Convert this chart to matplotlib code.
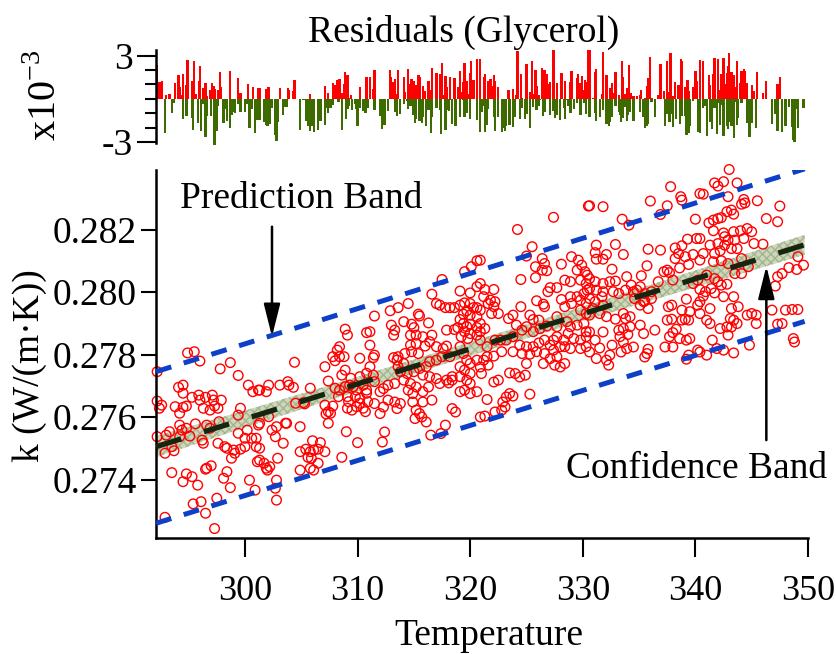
import numpy as np
import matplotlib
matplotlib.use('Agg')
import matplotlib.pyplot as plt

plt.rcParams['font.family'] = ['Liberation Serif', 'DejaVu Serif']
plt.rcParams['mathtext.fontset'] = 'custom'
plt.rcParams['mathtext.rm'] = 'Liberation Serif'
plt.rcParams['axes.unicode_minus'] = False

# measured points (T, k) grouped by temperature range
pts_292_301 = [(294.9,0.27805),(295.5,0.27809),(296.0,0.27779),(292.2,0.27745),(297.8,0.27754),(298.7,0.27774),(299.4,0.27733),
    (292.2,0.27651),(292.6,0.27638),(292.4,0.27628),(294.1,0.27695),(294.5,0.27702),(294.5,0.27676),(293.8,0.27633),(294.5,0.27631),
    (294.8,0.27635),(294.2,0.27612),(295.3,0.27663),(295.9,0.27670),(296.0,0.27654),(296.5,0.27663),(297.1,0.27670),(297.2,0.27654),
    (297.9,0.27654),(296.3,0.27628),(296.9,0.27622),(297.3,0.27635),(297.6,0.27628),(299.6,0.27628),(299.4,0.27606),(300.3,0.27702),
    (300.7,0.27681),(301.2,0.27686),(292.2,0.27537),(293.0,0.27542),(293.3,0.27553),(294.2,0.27574),(294.4,0.27558),(294.8,0.27564),
    (295.6,0.27578),(294.2,0.27537),(295.1,0.27539),(293.5,0.27505),(293.7,0.27492),(292.9,0.27484),(296.6,0.27574),(297.7,0.27585),
    (296.9,0.27564),(296.2,0.27526),(296.3,0.27516),(297.6,0.27516),(298.2,0.27505),(298.4,0.27500),(299.0,0.27494),(299.6,0.27497),
    (298.8,0.27468),(299.1,0.27484),(299.4,0.27548),(300.2,0.27558),(300.0,0.27532),(300.6,0.27532),(301.0,0.27532),(300.0,0.27505),
    (301.0,0.27505),(301.1,0.27457),(301.2,0.27574),(293.5,0.27422),(294.5,0.27393),(294.8,0.27418),(295.3,0.27409),(295.8,0.27382),
    (296.6,0.27436),(297.0,0.27444),(296.5,0.27433),(298.4,0.27425),(298.1,0.27404),(298.7,0.27374),(300.4,0.27398),(300.9,0.27366),
    (295.4,0.27322),(296.1,0.27329),(296.5,0.27292),(297.5,0.27340),(292.9,0.27279),(297.3,0.27243)]

pts_301_311 = [(308.9,0.27881),(309.1,0.27862),(310.8,0.27870),(308.4,0.27825),(308.2,0.27814),(307.8,0.27793),(308.4,0.27793),
    (308.8,0.27793),(308.0,0.27780),(310.2,0.27788),(304.4,0.27775),(307.1,0.27761),(307.4,0.27715),(308.9,0.27750),(308.6,0.27734),
    (309.4,0.27724),(310.2,0.27729),(310.8,0.27740),(301.3,0.27686),(301.9,0.27681),(302.1,0.27702),(303.1,0.27702),(303.8,0.27713),
    (303.9,0.27702),(304.3,0.27695),(305.8,0.27692),(304.5,0.27644),(305.2,0.27646),(305.3,0.27642),(308.0,0.27692),(308.4,0.27686),
    (308.9,0.27697),(309.3,0.27702),(309.6,0.27697),(309.9,0.27686),(310.5,0.27702),(310.8,0.27686),(308.3,0.27665),(309.1,0.27665),
    (309.8,0.27665),(310.2,0.27660),(310.8,0.27676),(310.9,0.27649),(307.1,0.27638),(307.4,0.27617),(307.6,0.27612),(307.2,0.27610),
    (307.8,0.27635),(309.2,0.27649),(309.1,0.27628),(309.5,0.27622),(309.9,0.27633),(310.2,0.27644),(310.5,0.27628),(310.7,0.27617),
    (307.4,0.27580),(309.0,0.27553),(310.0,0.27518),(301.3,0.27580),(302.1,0.27601),(302.4,0.27558),(302.8,0.27569),(303.6,0.27580),
    (303.7,0.27580),(302.7,0.27537),(303.4,0.27516),(304.9,0.27569),(301.3,0.27500),(301.3,0.27462),(301.7,0.27452),(301.9,0.27436),
    (302.2,0.27441),(302.0,0.27430),(302.9,0.27468),(304.9,0.27489),(306.0,0.27524),(305.4,0.27497),(305.8,0.27489),(306.1,0.27494),
    (306.7,0.27518),(307.1,0.27489),(306.5,0.27497),(305.6,0.27471),(305.9,0.27468),(306.5,0.27452),(308.6,0.27471),(304.9,0.27430),
    (305.8,0.27436),(306.1,0.27430),(302.8,0.27398),(302.7,0.27372),(302.8,0.27334)]

pts_311_321 = [(320.6,0.28100),(320.1,0.28081),(319.5,0.28065),(317.5,0.28040),(319.1,0.28003),(320.0,0.27997),(320.6,0.28017),
    (316.6,0.27993),(317.0,0.27963),(317.3,0.27958),(317.8,0.27950),(318.2,0.27950),(318.6,0.27950),(319.1,0.27958),(319.5,0.27965),
    (320.0,0.27963),(320.3,0.27950),(320.6,0.27950),(319.7,0.27940),(319.4,0.27929),(320.0,0.27926),(320.6,0.27921),(319.1,0.27912),
    (319.4,0.27899),(319.7,0.27889),(320.0,0.27897),(320.6,0.27886),(319.5,0.27873),(320.0,0.27867),(320.6,0.27862),(319.2,0.27857),
    (319.8,0.27851),(317.9,0.27878),(318.6,0.27880),(318.9,0.27886),(314.5,0.27963),(313.6,0.27950),(312.9,0.27940),(311.5,0.27923),
    (315.4,0.27929),(315.5,0.27923),(314.1,0.27905),(313.0,0.27894),(313.3,0.27878),(313.2,0.27862),(314.8,0.27897),(315.0,0.27886),
    (316.3,0.27901),(314.7,0.27862),(315.2,0.27862),(315.8,0.27857),(316.6,0.27862),(316.4,0.27841),(316.0,0.27827),(315.2,0.27835),
    (314.7,0.27830),(314.8,0.27809),(315.4,0.27803),(314.2,0.27803),(313.6,0.27793),(311.1,0.27873),(311.1,0.27830),(311.5,0.27798),
    (311.4,0.27790),(317.9,0.27827),(317.0,0.27825),(317.6,0.27819),(313.2,0.27790),(313.5,0.27782),(314.1,0.27771),(313.6,0.27761),
    (313.8,0.27745),(314.4,0.27739),(315.0,0.27745),(315.5,0.27755),(316.1,0.27761),(316.4,0.27777),(317.0,0.27782),(317.5,0.27793),
    (318.2,0.27793),(315.8,0.27734),(316.4,0.27729),(317.0,0.27723),(317.3,0.27707),(317.9,0.27718),(318.4,0.27729),(314.1,0.27718),
    (314.7,0.27707),(315.2,0.27696),(314.5,0.27686),(314.9,0.27675),(315.8,0.27681),(316.3,0.27696),(313.3,0.27707),(312.7,0.27702),
    (312.3,0.27691),(312.0,0.27681),(311.5,0.27713),(311.4,0.27734),(311.1,0.27761),(319.1,0.27825),(319.4,0.27803),(319.7,0.27782),
    (320.0,0.27771),(320.6,0.27782),(319.1,0.27761),(319.5,0.27750),(320.0,0.27739),(319.1,0.27729),(319.7,0.27718),(320.0,0.27707),
    (319.5,0.27686),(320.0,0.27675),(319.1,0.27681),(320.6,0.27681),(318.4,0.27718),(318.1,0.27709),(311.5,0.27643),(312.3,0.27632),
    (312.7,0.27654),(313.3,0.27648),(313.8,0.27643),(314.9,0.27648),(315.8,0.27648),(316.6,0.27654),(315.2,0.27622),(315.5,0.27611),
    (315.7,0.27600),(315.1,0.27595),(316.1,0.27584),(313.5,0.27627),(312.0,0.27611),(318.4,0.27627),(318.7,0.27616),(317.8,0.27574),
    (317.4,0.27547),(316.5,0.27542),(312.4,0.27552),(312.2,0.27520)]

pts_321_331 = [(327.4,0.28239),(324.2,0.28200),(330.5,0.28275),(325.5,0.28145),(325.0,0.28115),(320.9,0.28102),(326.4,0.28107),
    (326.6,0.28091),(325.8,0.28081),(326.4,0.28070),(326.8,0.28068),(324.5,0.28040),(325.8,0.28046),(328.1,0.28089),(329.0,0.28113),
    (329.6,0.28102),(329.9,0.28086),(329.5,0.28070),(330.2,0.28065),(330.4,0.28054),(329.8,0.28038),(328.4,0.28038),(328.9,0.28033),
    (330.3,0.28027),(327.1,0.28014),(327.7,0.28014),(326.9,0.28001),(328.1,0.27976),(328.9,0.27985),(329.5,0.27985),(330.1,0.27995),
    (330.4,0.28006),(329.8,0.27974),(330.3,0.27963),(329.0,0.27963),(328.4,0.27953),(329.8,0.27942),(330.3,0.27931),(327.7,0.27921),
    (320.9,0.28027),(321.3,0.28008),(322.1,0.28008),(321.2,0.27985),(321.8,0.27974),(321.6,0.27963),(322.2,0.27969),(322.1,0.27953),
    (321.9,0.27931),(322.5,0.27931),(320.9,0.27942),(320.9,0.27899),(321.3,0.27883),(320.9,0.27873),(325.9,0.27972),(326.5,0.27961),
    (326.6,0.27953),(324.5,0.27953),(323.8,0.27926),(323.4,0.27915),(325.3,0.27926),(325.6,0.27912),(326.1,0.27910),(324.1,0.27894),
    (324.6,0.27878),(325.0,0.27889),(325.6,0.27873),(326.2,0.27883),(326.8,0.27891),(327.7,0.27889),(328.6,0.27905),(328.9,0.27889),
    (329.5,0.27894),(330.1,0.27899),(330.3,0.27873),(328.7,0.27867),(329.2,0.27851),(329.8,0.27846),(330.3,0.27857),(328.3,0.27846),
    (327.7,0.27857),(327.4,0.27846),(327.1,0.27830),(326.6,0.27846),(326.1,0.27837),(325.6,0.27825),(325.0,0.27825),(324.4,0.27830),
    (323.8,0.27857),(323.2,0.27846),(322.7,0.27846),(322.2,0.27846),(321.5,0.27825),(320.9,0.27846),(323.8,0.27809),(324.6,0.27803),
    (325.3,0.27801),(325.9,0.27809),(326.6,0.27803),(327.4,0.27814),(328.0,0.27825),(328.4,0.27825),(328.9,0.27819),(329.8,0.27819),
    (330.3,0.27825),(322.8,0.27809),(322.1,0.27795),(321.5,0.27793),(321.2,0.27782),(321.6,0.27766),(320.9,0.27760),(321.0,0.27739),
    (322.1,0.27712),(322.5,0.27718),(323.5,0.27741),(324.0,0.27739),(324.4,0.27728),(324.9,0.27734),(325.0,0.27771),(326.5,0.27771),
    (327.1,0.27787),(327.5,0.27766),(328.0,0.27760),(328.4,0.27771),(327.7,0.27793),(321.5,0.27656),(322.9,0.27648),(323.2,0.27664),
    (323.5,0.27675),(323.8,0.27667),(325.3,0.27673),(322.2,0.27616),(322.8,0.27622),(323.1,0.27632),(320.9,0.27600),(321.3,0.27603)]

pts_331_340 = [(337.8,0.28337),(336.0,0.28291),(338.7,0.28305),(338.8,0.28294),(337.5,0.28276),(336.9,0.28248),(331.8,0.28273),
    (330.6,0.28276),(333.5,0.28233),(334.1,0.28214),(340.0,0.28233),(331.2,0.28150),(332.9,0.28152),(331.1,0.28126),(331.2,0.28105),
    (331.8,0.28105),(332.1,0.28120),(333.6,0.28120),(335.8,0.28137),(336.9,0.28134),(338.2,0.28141),(338.8,0.28148),(339.3,0.28169),
    (340.1,0.28171),(338.5,0.28123),(339.1,0.28113),(339.8,0.28120),(338.2,0.28107),(339.4,0.28088),(335.7,0.28084),(332.6,0.28073),
    (338.6,0.28077),(337.5,0.28070),(337.2,0.28065),(337.7,0.28062),(335.2,0.28052),(333.9,0.28049),(334.3,0.28022),(335.1,0.28017),
    (336.7,0.28033),(338.0,0.28038),(330.6,0.28043),(331.1,0.28033),(331.8,0.28027),(332.4,0.28033),(332.9,0.28035),(330.6,0.28011),
    (331.2,0.28006),(331.8,0.28001),(332.7,0.28001),(333.2,0.27995),(333.8,0.28006),(334.5,0.28001),(334.8,0.28006),(335.5,0.27995),
    (336.1,0.28001),(339.8,0.28027),(340.2,0.28038),(330.6,0.27979),(331.1,0.27969),(331.7,0.27985),(331.8,0.27958),(330.9,0.27947),
    (331.5,0.27931),(332.1,0.27921),(330.6,0.27926),(332.9,0.27913),(333.6,0.27931),(333.8,0.27915),(334.2,0.27921),(334.6,0.27979),
    (335.5,0.27971),(336.1,0.27979),(335.8,0.27947),(335.4,0.27969),(335.1,0.27958),(337.9,0.27958),(337.6,0.27953),(339.2,0.27977),
    (338.8,0.27942),(339.5,0.27937),(339.1,0.27913),(339.4,0.27910),(338.8,0.27910),(337.9,0.27913),(337.5,0.27910),(340.2,0.27958),
    (330.6,0.27872),(331.1,0.27846),(331.8,0.27872),(333.2,0.27878),(333.6,0.27883),(334.2,0.27889),(334.0,0.27864),(333.3,0.27857),
    (333.6,0.27840),(332.6,0.27830),(331.5,0.27821),(332.4,0.27798),(332.1,0.27782),(332.3,0.27766),(331.2,0.27787),(330.6,0.27808),
    (333.4,0.27808),(333.9,0.27819),(334.5,0.27824),(335.1,0.27894),(335.4,0.27867),(336.4,0.27878),(338.3,0.27881),(338.0,0.27870),
    (338.6,0.27851),(339.2,0.27846),(339.5,0.27851),(337.7,0.27857),(337.3,0.27824),(338.0,0.27824),(335.8,0.27817),(335.7,0.27803),
    (335.5,0.27792),(339.4,0.27798),(339.2,0.27785),(340.2,0.27814)]

pts_340_350 = [(343.0,0.28392),(341.7,0.28349),(342.5,0.28353),(342.0,0.28339),(343.7,0.28349),(340.4,0.28315),(340.7,0.28313),
    (342.9,0.28305),(344.3,0.28296),(344.4,0.28285),(344.1,0.28281),(345.5,0.28292),(347.5,0.28275),(346.3,0.28235),(347.3,0.28225),
    (343.2,0.28262),(342.8,0.28257),(343.4,0.28249),(341.2,0.28221),(341.6,0.28230),(342.0,0.28235),(342.3,0.28238),(341.6,0.28196),
    (342.5,0.28189),(343.4,0.28193),(344.0,0.28196),(344.6,0.28203),(345.0,0.28193),(342.6,0.28177),(342.9,0.28166),(343.5,0.28166),
    (344.3,0.28171),(340.4,0.28171),(341.3,0.28150),(342.0,0.28155),(342.6,0.28150),(343.2,0.28139),(343.7,0.28139),(345.2,0.28155),
    (346.0,0.28153),(340.7,0.28123),(341.7,0.28123),(342.2,0.28132),(340.4,0.28102),(341.6,0.28097),(342.3,0.28100),(342.9,0.28091),
    (344.1,0.28107),(344.7,0.28081),(344.1,0.28059),(343.5,0.28059),(341.0,0.28054),(341.7,0.28043),(342.0,0.28033),(342.3,0.28022),
    (342.8,0.28025),(340.4,0.28008),(340.9,0.28001),(341.4,0.28011),(341.7,0.27997),(342.5,0.27985),(340.7,0.27987),(340.4,0.27969),
    (343.4,0.27985),(343.8,0.27953),(343.2,0.27947),(343.1,0.27915),(343.4,0.27910),(343.7,0.27899),(343.2,0.27888),(344.6,0.27926),
    (345.0,0.27931),(345.4,0.27926),(345.4,0.27899),(346.8,0.27942),(348.0,0.27942),(348.6,0.27944),(349.1,0.27944),(347.3,0.27897),
    (347.7,0.27899),(340.4,0.27931),(341.3,0.27947),(341.0,0.27910),(341.3,0.27899),(342.2,0.27883),(342.8,0.27888),(342.9,0.27862),
    (341.5,0.27846),(341.9,0.27819),(342.5,0.27814),(343.4,0.27805),(341.0,0.27798),(340.4,0.27808),(344.8,0.27830),(349.1,0.28113),
    (349.6,0.28086),(349.0,0.28072),(348.3,0.28078),(347.7,0.28059),(347.3,0.28049),(347.1,0.28019),(348.7,0.27851),(348.8,0.27840)]

# fit line, prediction band and confidence band
line_T = [292.1, 349.7]
fit_k = [0.27505, 0.28151]
pred_hi = [0.27745, 0.28394]
pred_lo = [0.27260, 0.27906]
conf_T = [292.1, 300, 310, 320, 330, 340, 349.7]
conf_hw = [0.00034, 0.00027, 0.00023, 0.00022, 0.00023, 0.00027, 0.00032]

x_ticks = [300, 310, 320, 330, 340, 350]
y_ticks = [0.274, 0.276, 0.278, 0.280, 0.282]
y_ticklabels = ['0.274', '0.276', '0.278', '0.280', '0.282']

pts = np.array(pts_292_301 + pts_301_311 + pts_311_321 + pts_321_331 + pts_331_340 + pts_340_350)
T = pts[:, 0]
k = pts[:, 1]
resid = (k - np.interp(T, line_T, fit_k)) * 1e3

W, H = 836, 654
fig = plt.figure(figsize=(W / 100, H / 100), dpi=100)

# main panel
ax = fig.add_axes([156 / W, 1 - 538 / H, (808 - 156) / W, (538 - 170) / H])
ax.set_xlim(292.1, 350.0)
ax.set_ylim(0.272128, 0.283904)

conf_mid = np.interp(conf_T, line_T, fit_k)
ax.fill_between(conf_T, conf_mid - np.array(conf_hw), conf_mid + np.array(conf_hw),
                facecolor='#ccd7bc', edgecolor='#a3b48e', hatch='xxxx', linewidth=0, zorder=1)
ax.scatter(T, k, s=48, facecolors='none', edgecolors='#ff0000', linewidths=1.0, zorder=2, clip_on=False)
ax.plot(line_T, pred_hi, color='#0d40c8', lw=3.6, dashes=(3.2, 2.6), zorder=3)
ax.plot(line_T, pred_lo, color='#0d40c8', lw=3.6, dashes=(3.2, 2.6), zorder=3)
ax.plot(line_T, fit_k, color='#17240f', lw=3.8, dashes=(5, 4.5), zorder=4)

for s in ['top', 'right']:
    ax.spines[s].set_visible(False)
for s in ['left', 'bottom']:
    ax.spines[s].set_linewidth(1.8)
ax.set_xticks(x_ticks)
ax.set_yticks(y_ticks)
ax.set_yticklabels(y_ticklabels)
ax.tick_params(axis='x', direction='out', length=14, width=1.5, labelsize=26, pad=13)
ax.tick_params(axis='y', direction='out', length=11, width=1.5, labelsize=27, pad=3)

ax.text(305.0, 0.28269, 'Prediction Band', fontsize=27, ha='center', va='baseline')
ax.text(340.1, 0.27405, 'Confidence Band', fontsize=27, ha='center', va='baseline')
arrow = dict(arrowstyle='-|>,head_length=1.0,head_width=0.25', mutation_scale=20,
             lw=1.8, color='black', shrinkA=0, shrinkB=0)
ax.annotate('', xy=(302.4, 0.27857), xytext=(302.4, 0.28209), arrowprops=arrow)
ax.annotate('', xy=(346.3, 0.28083), xytext=(346.3, 0.27526), arrowprops=arrow)

fig.text(489 / W, (H - 645) / H, 'Temperature', fontsize=27, ha='center', va='baseline')
fig.text(30 / W, 1 - 366 / H, 'k (W/(m\u00b7K))', fontsize=27, rotation=90, ha='center', va='center')

# residual panel
axr = fig.add_axes([156 / W, 1 - 146 / H, (808 - 156) / W, 96 / H])
axr.set_xlim(292.1, 350.0)
axr.set_ylim(-3.28, 3.40)
colors = np.where(resid >= 0, '#ff0000', '#3d6b00')
axr.bar(T, resid, width=0.2, color=colors, linewidth=0)
for s in ['top', 'right', 'bottom']:
    axr.spines[s].set_visible(False)
axr.spines['left'].set_linewidth(1.8)
axr.spines['left'].set_bounds(-3.05, 3.4)
axr.set_xticks([])
axr.set_yticks([-3, 3])
axr.set_yticklabels(['-3', '3'])
axr.set_yticks([-2, -1, 0, 1, 2], minor=True)
axr.tick_params(axis='y', which='major', direction='out', length=14, width=1.5, labelsize=27, pad=3)
axr.tick_params(axis='y', which='minor', direction='out', length=8, width=1.5)

fig.text(464 / W, 1 - 42 / H, 'Residuals (Glycerol)', fontsize=27, ha='center', va='baseline')
fig.text(46 / W, 1 - 95 / H, 'x10$^{-3}$', fontsize=29, rotation=90, ha='center', va='center')

fig.savefig('out.png', dpi=100)
